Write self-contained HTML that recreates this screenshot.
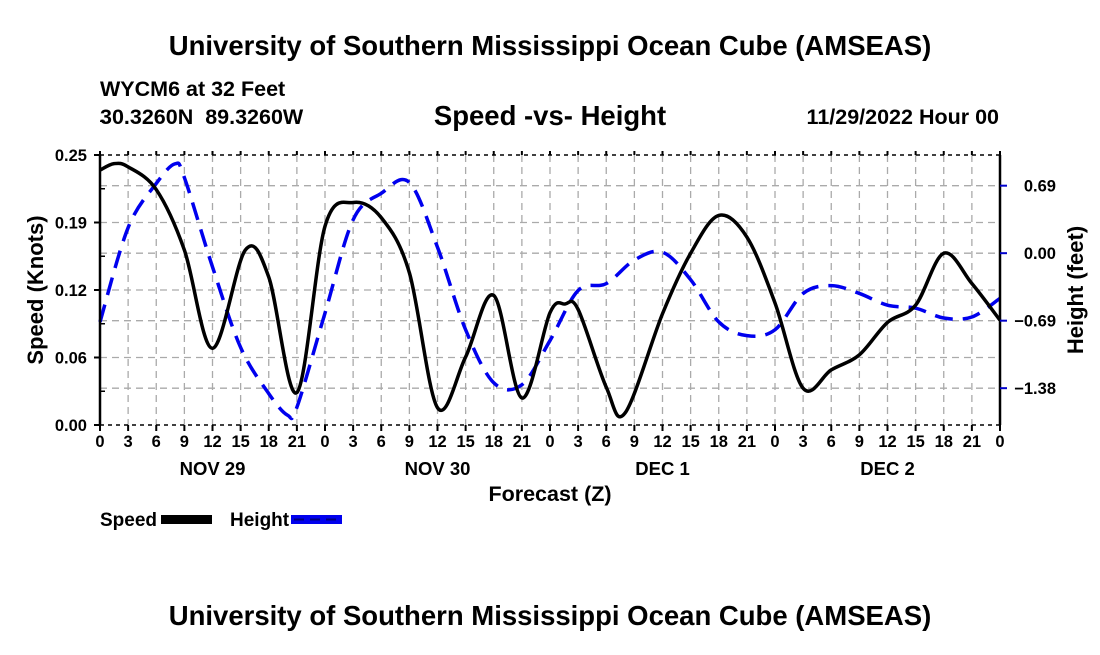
<!DOCTYPE html>
<html><head><meta charset="utf-8"><style>
body{margin:0;background:#fff;width:1100px;height:650px;overflow:hidden}
svg text{font-family:"Liberation Sans",Arial,sans-serif;font-weight:bold;fill:#000}
</style></head><body>
<svg id="chart" width="1100" height="650" viewBox="0 0 1100 650" xmlns="http://www.w3.org/2000/svg">
<text x="550" y="55" font-size="27.5" text-anchor="middle">University of Southern Mississippi Ocean Cube (AMSEAS)</text>
<text x="100" y="96" font-size="21.5">WYCM6 at 32 Feet</text>
<text x="100" y="124" font-size="21.5" xml:space="preserve">30.3260N  89.3260W</text>
<text x="550" y="125" font-size="27.5" text-anchor="middle">Speed -vs- Height</text>
<text x="999" y="124" font-size="21.5" text-anchor="end">11/29/2022 Hour 00</text>
<g id="grid"></g>
<g id="marks"></g>
<g id="axes"></g>
<text x="550" y="501" font-size="21.5" text-anchor="middle">Forecast (Z)</text>
<text transform="translate(43,290) rotate(-90)" font-size="22" text-anchor="middle">Speed (Knots)</text>
<text transform="translate(1083,290) rotate(-90)" font-size="22" text-anchor="middle">Height (feet)</text>
<g>
<text x="100" y="526" font-size="19">Speed</text>
<rect x="161" y="515" width="51" height="9" fill="#000"/>
<text x="230" y="526" font-size="19">Height</text>
<rect x="291" y="515" width="51" height="9" fill="#0000ee"/>
<line x1="294" y1="519.5" x2="340" y2="519.5" stroke="#000080" stroke-width="2" stroke-dasharray="10,6"/>
</g>
<text x="550" y="625" font-size="27.5" text-anchor="middle">University of Southern Mississippi Ocean Cube (AMSEAS)</text>
</svg>
<script>
const speedHours=[0,1.5,3,6,9,12,15.5,18,21,24,27,30,33,36,39,42,45,48,49.6,51,54,56,60,63,66,69,72,75,78,81,84,87,90,93,96];
const speedValues=[0.236,0.242,0.239,0.218,0.162,0.071,0.162,0.137,0.030,0.184,0.206,0.192,0.141,0.016,0.063,0.120,0.025,0.104,0.112,0.107,0.035,0.011,0.103,0.159,0.194,0.174,0.113,0.034,0.051,0.065,0.095,0.111,0.159,0.131,0.097];
const heightHours=[0,3,6,8,9,12,15,18,20,21,24,27,30,33,36,39,42,45,48,51,54,57,60,63,66,69,72,75,78,81,84,87,90,93,96];
const heightValues=[-0.70,0.26,0.71,0.91,0.77,-0.14,-0.96,-1.43,-1.65,-1.57,-0.61,0.34,0.61,0.72,0.06,-0.78,-1.32,-1.34,-0.89,-0.38,-0.31,-0.07,0.01,-0.27,-0.70,-0.84,-0.78,-0.41,-0.33,-0.41,-0.53,-0.56,-0.66,-0.65,-0.46];
const xTickLabels=['0','3','6','9','12','15','18','21'];
const dayLabels=['NOV 29','NOV 30','DEC 1','DEC 2'];
const speedTickLabels=['0.00','0.06','0.12','0.19','0.25'];
const heightTickLabels=['-1.38','-0.69','0.00','0.69'];

const X0=100,X1=1000,Y0=425,Y1=155;
const xs=h=>X0+(X1-X0)*h/96;
const ys=v=>Y0-(Y0-Y1)*v/0.25;
const yh=v=>Y0-(Y0-Y1)*(v+1.75)/2.75;
const NS='http://www.w3.org/2000/svg';
function mk(tag,attrs,parent,txt){const e=document.createElementNS(NS,tag);for(const k in attrs)e.setAttribute(k,attrs[k]);if(txt!==undefined)e.textContent=txt;parent.appendChild(e);return e;}
const grid=document.getElementById('grid'),marks=document.getElementById('marks'),axes=document.getElementById('axes');
for(let h=3;h<96;h+=3){const l=mk('line',{x1:xs(h),x2:xs(h),y1:Y1,y2:Y0,stroke:'#aaa','stroke-width':1.3,'stroke-dasharray':'7,5'},grid);

}
for(let i=1;i<4;i++){const l=mk('line',{x1:X0,x2:X1,y1:ys(i*0.0625),y2:ys(i*0.0625),stroke:'#aaa','stroke-width':1.3,'stroke-dasharray':'7,5'},grid);

}
for(let i=0;i<4;i++){const v=-1.375+i*0.6875;const l=mk('line',{x1:X0,x2:X1,y1:yh(v),y2:yh(v),stroke:'#aaa','stroke-width':1.3,'stroke-dasharray':'7,5'},grid);

}
function smooth(hs,vs,yf){const p=hs.map((h,i)=>[xs(h),yf(vs[i])]);let d='M'+p[0][0]+','+p[0][1];
for(let i=0;i<p.length-1;i++){const a=p[i-1]||p[i],b=p[i],c=p[i+1],e=p[i+2]||c;
d+=' C'+(b[0]+(c[0]-a[0])/6)+','+(b[1]+(c[1]-a[1])/6)+' '+(c[0]-(e[0]-b[0])/6)+','+(c[1]-(e[1]-b[1])/6)+' '+c[0]+','+c[1];}return d;}
const hp=mk('path',{d:smooth(heightHours,heightValues,yh),fill:'none',stroke:'#0000ee','stroke-width':3.5,'stroke-dasharray':'18,10'},marks);


const sp=mk('path',{d:smooth(speedHours,speedValues,ys),fill:'none',stroke:'#000','stroke-width':3.5},marks);


mk('line',{x1:X0,x2:X0,y1:Y1,y2:Y0,stroke:'#000','stroke-width':2.5},axes);
mk('line',{x1:X1,x2:X1,y1:Y1,y2:Y0,stroke:'#000','stroke-width':2.5},axes);
mk('line',{x1:X0,x2:X1,y1:Y0,y2:Y0,stroke:'#000','stroke-width':1.5,'stroke-dasharray':'4,4'},axes);
mk('line',{x1:X0,x2:X1,y1:Y1,y2:Y1,stroke:'#000','stroke-width':1.5,'stroke-dasharray':'4,4'},axes);
for(let h=0;h<=96;h+=3){
 mk('line',{x1:xs(h),x2:xs(h),y1:Y0,y2:Y0+6,stroke:'#000','stroke-width':2},axes);
 mk('line',{x1:xs(h),x2:xs(h),y1:Y1,y2:Y1-4,stroke:'#000','stroke-width':2},axes);
 const t=mk('text',{x:xs(h),y:447,'font-size':16.5,'text-anchor':'middle'},axes,xTickLabels[(h/3)%8]);
 
 }
dayLabels.forEach((d,i)=>{const t=mk('text',{x:xs(12+24*i),y:475,'font-size':18.5,'text-anchor':'middle'},axes,d);

});
speedTickLabels.forEach((s,i)=>{const y=ys(i*0.0625);
 mk('line',{x1:X0-6,x2:X0,y1:y,y2:y,stroke:'#000','stroke-width':2},axes);
 mk('line',{x1:X0,x2:X0+5,y1:ys(i*0.0625+0.03125),y2:ys(i*0.0625+0.03125),stroke:'#000','stroke-width':1.5},axes);
 const t=mk('text',{x:87,y:y+6,'font-size':16.5,'text-anchor':'end'},axes,s);
 
 });
heightTickLabels.forEach((s,i)=>{const y=yh(-1.375+i*0.6875);
 mk('line',{x1:X1,x2:X1+7,y1:y,y2:y,stroke:'#0000cc','stroke-width':2},axes);
 const t=mk('text',{x:1056,y:y+6,'font-size':16.5,'text-anchor':'end'},axes,s.replace('-','\u2212'));
 
 });
</script>
</body></html>
